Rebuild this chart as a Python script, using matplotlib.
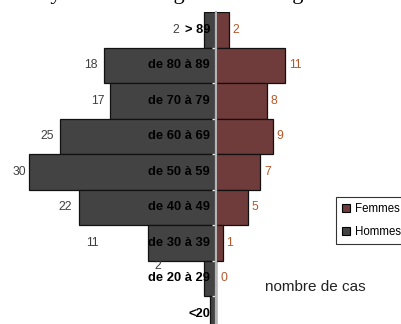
import matplotlib
matplotlib.use("Agg")
import matplotlib.pyplot as plt
from matplotlib.lines import Line2D

plt.rcParams['font.family'] = ['Liberation Sans', 'DejaVu Sans']

# age classes, oldest at the top
classes = ["> 89", "de 80 à 89", "de 70 à 79", "de 60 à 69", "de 50 à 59",
           "de 40 à 49", "de 30 à 39", "de 20 à 29", "<20"]
hommes = [2, 18, 17, 25, 30, 22, 11, 2, 1]
femmes = [2, 11, 8, 9, 7, 5, 1, 0, 0]

# where the men's counts sit (distance left of the axis, in cases); None = not shown
hommes_lab_x = [6.5, 20.0, 19.0, 27.1, 31.5, 24.2, 19.8, 9.4, None]
hommes_lab_dy = [0, 0, 0, 0, 0, 0, 0, -0.34, 0]
show_femmes_lab = [True] * 8 + [False]

W, H = 402, 324
fig = plt.figure(figsize=(W / 100, H / 100), dpi=100)

# axis at x = 216.5 px, 6.26 px per case, rows 35.5 px tall starting at y = 12 px
cx, scale = 216.5, 6.26
top, row_h = 12, 35.5
n = len(classes)
bottom_px = top + row_h * n
ax = fig.add_axes([0, (H - bottom_px) / H, 1, row_h * n / H])
ax.set_xlim(-cx / scale, (W - cx) / scale)
ax.set_ylim(n - 0.5, -0.5)

y = list(range(n))
ax.barh(y, [-v for v in hommes], height=1.0, color='#434343',
        edgecolor='#111111', linewidth=0.9, zorder=1)
ax.barh(y, femmes, height=1.0, color='#6f3b3b',
        edgecolor='#111111', linewidth=0.9, zorder=1)

for i, lab in enumerate(classes):
    ax.text(-1.0, i, lab, ha='right', va='center', fontsize=9.3,
            fontweight='bold', color='black', zorder=4)
    if hommes_lab_x[i] is not None:
        ax.text(-hommes_lab_x[i], i + hommes_lab_dy[i], str(hommes[i]),
                ha='center', va='center', fontsize=8.7, color='#404040')
    if show_femmes_lab[i]:
        ax.text(femmes[i] + 0.6, i, str(femmes[i]), ha='left', va='center',
                fontsize=8.7, color='#b5582a')

# central axis with small ticks between the age classes
for s in ['top', 'right', 'bottom']:
    ax.spines[s].set_visible(False)
ax.spines['left'].set_position(('data', 0))
ax.spines['left'].set_color('#b4b4b4')
ax.spines['left'].set_linewidth(1.6)
ax.spines['left'].set_zorder(3)
ax.set_xticks([])
ax.set_yticks([i + 0.5 for i in range(n - 1)])
ax.set_yticklabels([])
ax.tick_params(axis='y', direction='out', length=3, width=1,
               color='#e6e6e6')

handles = [
    Line2D([], [], marker='s', ls='', markersize=6, markerfacecolor='#6f3b3b',
           markeredgecolor='black', markeredgewidth=0.8, label='Femmes'),
    Line2D([], [], marker='s', ls='', markersize=6, markerfacecolor='#434343',
           markeredgecolor='black', markeredgewidth=0.8, label='Hommes'),
]
leg = fig.legend(handles=handles, loc='upper left',
                 bbox_to_anchor=(336 / W, 1 - 197 / H), borderaxespad=0,
                 fontsize=8.3, frameon=True, fancybox=False, handlelength=0.6,
                 handletextpad=0.5, borderpad=0.55, labelspacing=0.9)
leg.get_frame().set_edgecolor('black')
leg.get_frame().set_linewidth(0.8)

fig.text(265 / W, 1 - 286.7 / H, "nombre de cas", ha='left', va='center',
         fontsize=11, color='#222222')

# heading of the page, cut by the top edge
fig.text(38 / W, 1 + 1.5 / H, "Pyramide des âges des cas signalés",
         ha='left', va='baseline', fontsize=16, family='Liberation Serif')

fig.savefig("out.png", dpi=100)
